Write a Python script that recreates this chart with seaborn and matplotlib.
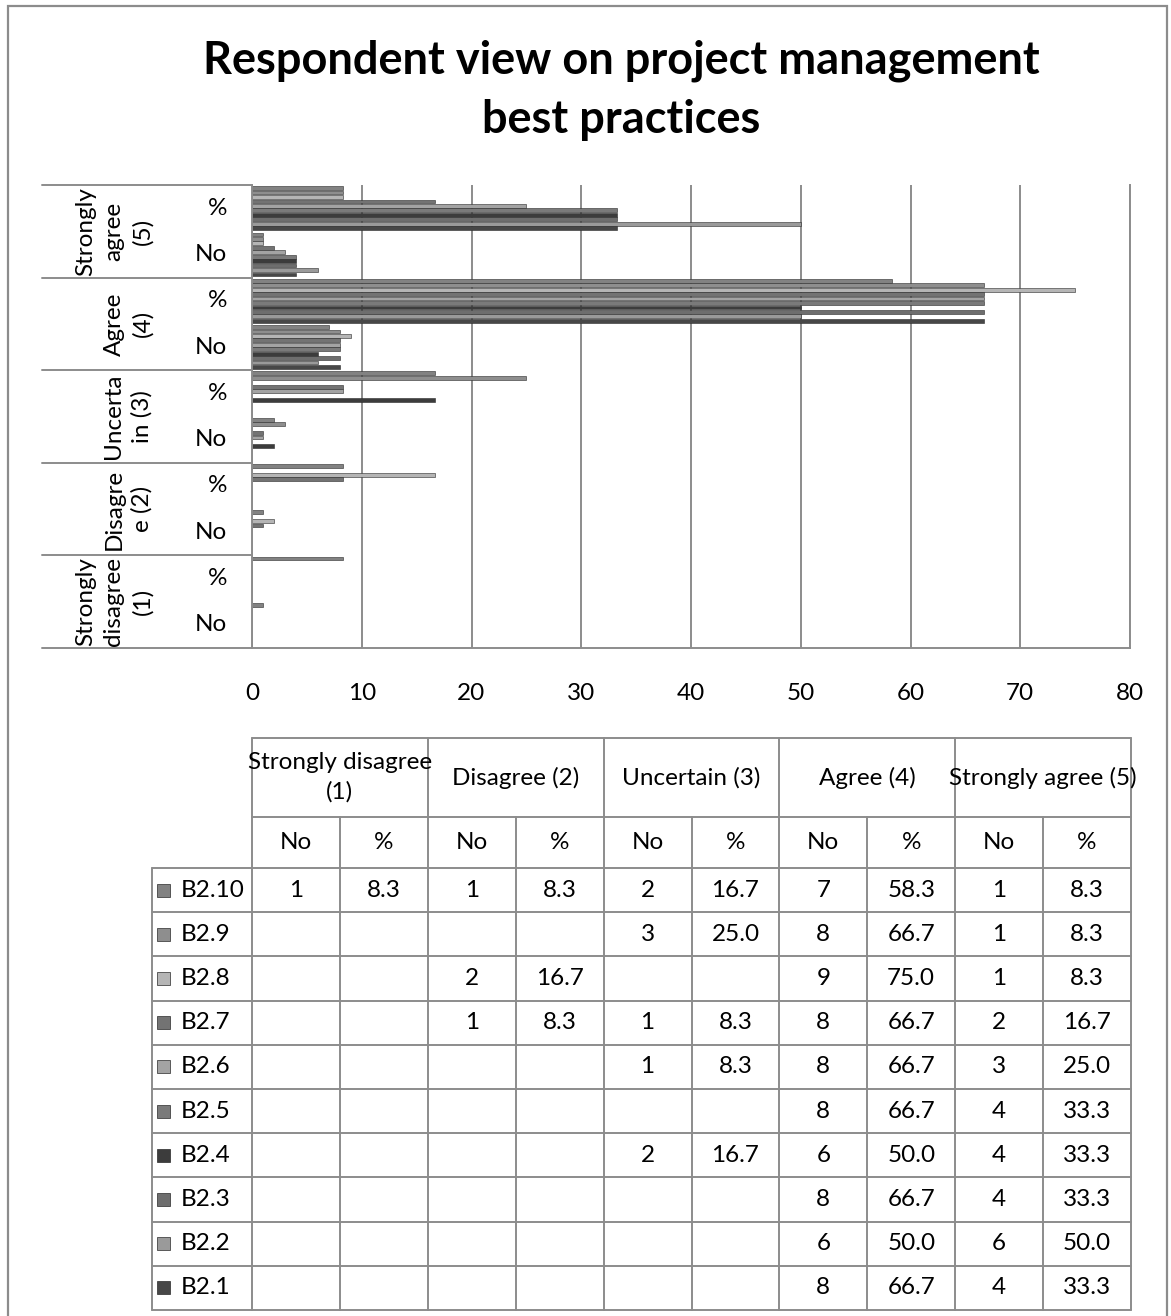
import numpy as np
import pandas as pd
import matplotlib
matplotlib.use("Agg")
import matplotlib.pyplot as plt
from matplotlib.lines import Line2D
from matplotlib.patches import Rectangle
from matplotlib.transforms import blended_transform_factory
import seaborn as sns

# ---- data (series B2.1 .. B2.10) ----
series = ["B2.1", "B2.2", "B2.3", "B2.4", "B2.5", "B2.6", "B2.7", "B2.8", "B2.9", "B2.10"]
nan = np.nan
sd_no = [nan, nan, nan, nan, nan, nan, nan, nan, nan, 1]
sd_pct = [nan, nan, nan, nan, nan, nan, nan, nan, nan, 8.3]
d_no = [nan, nan, nan, nan, nan, nan, 1, 2, nan, 1]
d_pct = [nan, nan, nan, nan, nan, nan, 8.3, 16.7, nan, 8.3]
u_no = [nan, nan, nan, 2, nan, 1, 1, nan, 3, 2]
u_pct = [nan, nan, nan, 16.7, nan, 8.3, 8.3, nan, 25.0, 16.7]
a_no = [8, 6, 8, 6, 8, 8, 8, 9, 8, 7]
a_pct = [66.7, 50.0, 66.7, 50.0, 66.7, 66.7, 66.7, 75.0, 66.7, 58.3]
sa_no = [4, 6, 4, 4, 4, 3, 2, 1, 1, 1]
sa_pct = [33.3, 50.0, 33.3, 33.3, 33.3, 25.0, 16.7, 8.3, 8.3, 8.3]

levels = ["Strongly disagree (1)", "Disagree (2)", "Uncertain (3)", "Agree (4)", "Strongly agree (5)"]
axis_levels = ["Strongly\ndisagree\n(1)", "Disagre\ne (2)", "Uncerta\nin (3)", "Agree\n(4)", "Strongly\nagree\n(5)"]
measures = ["No", "%"]
columns = [(sd_no, sd_pct), (d_no, d_pct), (u_no, u_pct), (a_no, a_pct), (sa_no, sa_pct)]

colors = ["#474747", "#9a9a9a", "#6e6e6e", "#3c3c3c", "#7a7a7a",
          "#a3a3a3", "#737373", "#b5b5b5", "#8e8e8e", "#828282"]
palette = dict(zip(series, colors))

# long-form table: one row per bar
records = []
for li, (no_vals, pct_vals) in enumerate(columns):
    for mi, vals in enumerate((no_vals, pct_vals)):
        for s, v in zip(series, vals):
            if not np.isnan(v):
                records.append({"row": f"{levels[li]}|{measures[mi]}", "series": s, "value": v})
df = pd.DataFrame(records)
row_order = [f"{levels[li]}|{m}" for li in range(4, -1, -1) for m in ("%", "No")]
hue_order = series[::-1]

# ---- figure ----
W, H = 1171, 1316
sns.set_theme(style="white")
plt.rcParams["font.family"] = ["Lato", "DejaVu Sans"]
plt.rcParams["text.color"] = "black"
plt.rcParams["xtick.color"] = "black"
fig = plt.figure(figsize=(W / 100, H / 100), dpi=100)
fig.patch.set_facecolor("white")

FS = 17.5

def fx(px):
    return px / W

def fy(py):
    return 1 - py / H

GRID = "#8c8c8c"
ax_l, ax_r, ax_t, ax_b = 252, 1130, 185, 648
ax = fig.add_axes([fx(ax_l), fy(ax_b), fx(ax_r - ax_l), (ax_b - ax_t) / H])

sns.barplot(data=df, y="row", x="value", hue="series", order=row_order,
            hue_order=hue_order, palette=palette, orient="h", width=0.96,
            gap=0.15, legend=False, ax=ax, edgecolor="#2a2a2a", linewidth=0.4,
            errorbar=None)

ax.set_xlim(0, 80)
ax.set_ylim(len(row_order) - 0.5, -0.5)
ax.set_xticks(np.arange(0, 81, 10))
ax.set_xticklabels([str(v) for v in range(0, 81, 10)], fontsize=FS)
ax.tick_params(axis="x", length=0, pad=25, colors="black")
ax.set_yticks([])
ax.set_xlabel("")
ax.set_ylabel("")
ax.set_axisbelow(True)
ax.xaxis.grid(True, color=GRID, lw=1.4)
for side in ("left", "bottom", "right"):
    ax.spines[side].set_visible(True)
    ax.spines[side].set_color(GRID)
    ax.spines[side].set_linewidth(1.4)
ax.spines["top"].set_visible(False)

# two-level category axis on the left
bt = blended_transform_factory(ax.transAxes, ax.transData)
span = ax_r - ax_l
x_left = (42 - ax_l) / span
for b in [-0.5, 1.5, 3.5, 5.5, 7.5, 9.5]:
    ax.plot([x_left, 0], [b, b], transform=bt, color=GRID, lw=1.4, clip_on=False)
for i, r in enumerate(row_order):
    ax.text((227 - ax_l) / span, i, r.split("|")[1], transform=bt,
            ha="right", va="center", fontsize=FS)
for k in range(5):
    li = 4 - k
    yc = 2 * k + 0.5
    ax.text((153 - ax_l) / span, yc, axis_levels[li], transform=bt, rotation=90,
            ha="right", va="center", multialignment="center", fontsize=FS,
            linespacing=1.4)

# ---- title ----
fig.text(fx(621), fy(90), "Respondent view on project management\nbest practices",
         ha="center", va="center", fontsize=32.5, fontweight="bold", linespacing=1.5)

# ---- data table ----
col_x = [252 + i * 87.9 for i in range(11)]
row_y = [868 + k * 44.2 for k in range(11)]
t_top, t_mid = 738, 817

def hline(y, x0, x1):
    fig.add_artist(Line2D([fx(x0), fx(x1)], [fy(y), fy(y)], color=GRID, lw=1.4))

def vline(x, y0, y1):
    fig.add_artist(Line2D([fx(x), fx(x)], [fy(y0), fy(y1)], color=GRID, lw=1.4))

hline(t_top, 252, col_x[-1])
hline(t_mid, 252, col_x[-1])
for y in row_y:
    hline(y, 152, col_x[-1])
vline(152, row_y[0], row_y[-1])
for i, x in enumerate(col_x):
    vline(x, t_top if i % 2 == 0 else t_mid, row_y[-1])

header_text = ["Strongly disagree\n(1)", "Disagree (2)", "Uncertain (3)", "Agree (4)", "Strongly agree (5)"]
for li, txt in enumerate(header_text):
    xc = (col_x[2 * li] + col_x[2 * li + 2]) / 2
    fig.text(fx(xc), fy((t_top + t_mid) / 2), txt, ha="center", va="center",
             fontsize=FS, linespacing=1.45)
    for mi, m in enumerate(measures):
        xm = (col_x[2 * li + mi] + col_x[2 * li + mi + 1]) / 2
        fig.text(fx(xm), fy((t_mid + row_y[0]) / 2), m, ha="center", va="center", fontsize=FS)

for r, s in enumerate(hue_order):
    si = series.index(s)
    yc = (row_y[r] + row_y[r + 1]) / 2
    fig.add_artist(Rectangle((fx(157), fy(yc + 6.5)), fx(13), 13 / H,
                             facecolor=palette[s], edgecolor="#2a2a2a", lw=0.5))
    fig.text(fx(181), fy(yc), s, ha="left", va="center", fontsize=FS)
    for li, (no_vals, pct_vals) in enumerate(columns):
        for mi, vals in enumerate((no_vals, pct_vals)):
            v = vals[si]
            if np.isnan(v):
                continue
            txt = f"{int(v)}" if mi == 0 else f"{v:.1f}"
            xm = (col_x[2 * li + mi] + col_x[2 * li + mi + 1]) / 2
            fig.text(fx(xm), fy(yc), txt, ha="center", va="center", fontsize=FS)

# outer frame
fig.add_artist(Rectangle((fx(8), fy(1330)), fx(1159), (1330 - 6) / H,
                         facecolor="none", edgecolor=GRID, lw=1.6))

fig.savefig("out.png", dpi=100)
